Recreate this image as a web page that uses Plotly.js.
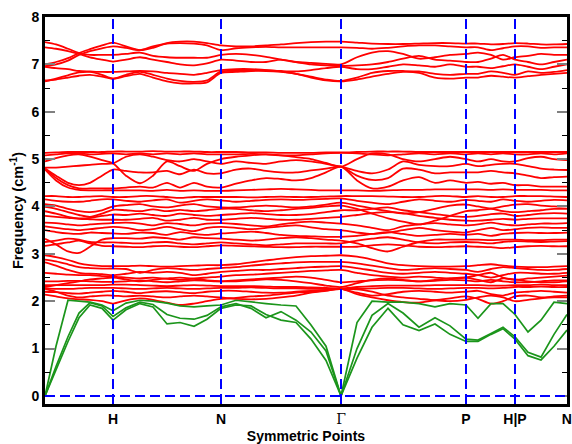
<!DOCTYPE html>
<html>
<head>
<meta charset="utf-8">
<script src="https://cdn.plot.ly/plotly-3.0.1.min.js"></script>
<style>html,body{margin:0;padding:0;background:#fff;}#chart{width:572px;height:444px;}</style>
</head>
<body>
<div id="chart"></div>
<script>
// path coordinate of each sample (Γ-H | H-N | N-Γ | Γ-P | P-H | P-N)
const xGrid = [0,11,23,34,45,57,68, 81,95,108,122,135,149,162,176, 191,206,221,236,251,266,281,296, 312,327,343,358,374,390,405,421, 433,446,458,470, 483,496,509,522];
const symPos = [68,176,296,421,470,521.8];
const symLabels = ['H','N','<span style="font-family:\'DejaVu Serif\',serif;font-weight:normal">Γ</span>','P','H|P','N'];
const dashPos = [68,176,296,421,470];

// acoustic branches (green)
const G1 = [0,0.55,1.15,1.65,1.92,1.85,1.6, 1.82,1.95,1.88,1.52,1.55,1.47,1.62,1.85, 1.92,1.9,1.72,1.6,1.55,1.2,0.75,0, 0.8,1.45,1.85,1.5,1.38,1.52,1.3,1.15, 1.15,1.3,1.42,1.2, 0.85,0.76,1.05,1.39];
const G2 = [0,0.62,1.25,1.75,1.97,1.9,1.68, 1.86,1.98,1.93,1.72,1.64,1.62,1.7,1.88, 1.95,1.85,1.65,1.78,1.6,1.35,0.95,0, 1.0,1.7,1.95,1.75,1.45,1.65,1.48,1.2, 1.18,1.32,1.45,1.25, 0.92,0.82,1.3,1.72];
const G3 = [0,1.05,2.02,2.0,1.98,1.92,1.8, 1.96,2.02,2.0,1.96,1.9,1.88,1.9,1.92, 2.02,1.98,1.95,1.92,1.9,1.5,1.05,0, 1.55,2.0,1.98,1.98,1.95,1.88,1.95,1.92, 1.64,1.95,1.95,1.72, 1.35,1.6,1.98,1.95];

// optical branches (red), group around 2.0-2.5
const A1 = [2.34,2.34,2.34,2.34,2.34,2.34,2.35, 2.35,2.34,2.33,2.32,2.33,2.34,2.33,2.32, 2.32,2.32,2.31,2.3,2.3,2.29,2.28,2.27, 2.3,2.32,2.33,2.33,2.33,2.34,2.34,2.34, 2.34,2.33,2.33,2.34, 2.34,2.35,2.34,2.34];
const A2 = [2.27,2.26,2.26,2.27,2.28,2.28,2.28, 2.27,2.26,2.27,2.28,2.27,2.26,2.27,2.28, 2.28,2.29,2.28,2.27,2.27,2.26,2.26,2.26, 2.26,2.27,2.28,2.28,2.27,2.26,2.27,2.28, 2.28,2.27,2.28,2.3, 2.3,2.31,2.3,2.3];
const A3 = [2.2,2.19,2.17,2.16,2.18,2.2,2.22, 2.2,2.17,2.2,2.21,2.19,2.17,2.2,2.22, 2.22,2.2,2.18,2.18,2.2,2.22,2.24,2.26, 2.18,2.12,2.15,2.2,2.22,2.2,2.18,2.2, 2.22,2.15,2.12,2.18, 2.2,2.22,2.2,2.18];
const A4 = [2.14,2.1,2.06,2.04,2.03,2.0,1.95, 2.02,2.06,2.03,1.97,1.92,1.95,2.0,2.05, 2.07,2.1,2.12,2.15,2.18,2.2,2.23,2.26, 2.15,2.08,2.02,1.98,1.97,2.02,2.06,2.1, 2.05,1.95,2.0,2.1, 2.12,2.08,2.1,2.12];
const A5 = [2.26,2.2,2.12,2.08,2.1,2.12,2.12, 2.1,2.12,2.1,2.08,2.1,2.12,2.1,2.08, 2.05,2.04,2.05,2.08,2.12,2.18,2.22,2.26, 2.25,2.2,2.12,2.08,2.05,2.02,2.0,2.03, 2.08,2.12,2.08,2.0, 2.03,2.06,2.08,2.08];
const A6 = [2.3,2.34,2.38,2.42,2.46,2.48,2.5, 2.46,2.42,2.45,2.48,2.5,2.47,2.44,2.42, 2.42,2.44,2.46,2.45,2.42,2.38,2.33,2.3, 2.38,2.45,2.48,2.45,2.42,2.45,2.48,2.5, 2.45,2.4,2.48,2.46, 2.42,2.4,2.4,2.42];

// group around 2.4-3.0
const B1 = [2.97,2.93,2.87,2.8,2.76,2.74,2.74, 2.74,2.75,2.74,2.73,2.74,2.75,2.76,2.76, 2.78,2.82,2.86,2.9,2.93,2.95,2.96,2.97, 2.94,2.88,2.8,2.76,2.74,2.73,2.73,2.74, 2.76,2.78,2.75,2.73, 2.72,2.72,2.73,2.74];
const B2 = [2.88,2.84,2.78,2.72,2.7,2.69,2.69, 2.68,2.6,2.66,2.7,2.68,2.66,2.68,2.7, 2.72,2.75,2.78,2.8,2.82,2.83,2.83,2.83, 2.8,2.75,2.7,2.66,2.68,2.7,2.68,2.66, 2.62,2.68,2.72,2.7, 2.68,2.66,2.66,2.68];
const B3 = [2.82,2.75,2.66,2.6,2.58,2.57,2.55, 2.58,2.62,2.6,2.62,2.6,2.55,2.58,2.62, 2.64,2.66,2.66,2.68,2.7,2.72,2.73,2.74, 2.7,2.65,2.6,2.58,2.6,2.62,2.6,2.58, 2.55,2.5,2.55,2.6, 2.6,2.58,2.58,2.6];
const B4 = [2.6,2.58,2.56,2.55,2.55,2.53,2.52, 2.5,2.48,2.5,2.47,2.45,2.48,2.5,2.52, 2.55,2.56,2.58,2.6,2.62,2.64,2.65,2.66, 2.6,2.55,2.52,2.5,2.52,2.5,2.48,2.5, 2.55,2.6,2.5,2.45, 2.48,2.5,2.52,2.54];
const B5 = [2.42,2.42,2.43,2.43,2.42,2.41,2.41, 2.42,2.44,2.42,2.4,2.42,2.44,2.43,2.42, 2.44,2.46,2.48,2.5,2.52,2.5,2.45,2.4, 2.42,2.44,2.45,2.44,2.42,2.43,2.45,2.44, 2.42,2.45,2.42,2.4, 2.4,2.42,2.44,2.44];

// group around 3.1-3.7
const C1 = [3.66,3.65,3.62,3.6,3.62,3.64,3.65, 3.66,3.64,3.6,3.65,3.63,3.6,3.64,3.65, 3.63,3.6,3.58,3.62,3.66,3.68,3.66,3.64, 3.6,3.55,3.5,3.58,3.62,3.65,3.62,3.6, 3.62,3.66,3.62,3.6, 3.62,3.64,3.64,3.65];
const C2 = [3.58,3.55,3.52,3.5,3.52,3.55,3.57, 3.55,3.5,3.52,3.57,3.52,3.48,3.55,3.57, 3.55,3.52,3.55,3.58,3.6,3.56,3.52,3.5, 3.45,3.42,3.45,3.5,3.55,3.5,3.47,3.45, 3.5,3.55,3.5,3.52, 3.55,3.56,3.55,3.55];
const C3 = [3.5,3.46,3.43,3.42,3.45,3.44,3.43, 3.42,3.45,3.44,3.4,3.46,3.42,3.4,3.43, 3.45,3.47,3.44,3.4,3.38,3.37,3.36,3.36, 3.38,3.42,3.46,3.42,3.38,3.4,3.42,3.4, 3.42,3.38,3.42,3.44, 3.45,3.44,3.44,3.45];
const C4 = [3.32,3.2,3.05,3.02,3.15,3.3,3.33, 3.33,3.32,3.35,3.33,3.3,3.35,3.33,3.32, 3.3,3.28,3.3,3.33,3.35,3.33,3.3,3.28, 3.22,3.12,3.05,3.15,3.25,3.3,3.3,3.3, 3.3,3.29,3.3,3.3, 3.29,3.29,3.3,3.3];
const C5 = [3.25,3.28,3.32,3.3,3.25,3.24,3.24, 3.23,3.22,3.24,3.25,3.22,3.2,3.22,3.24, 3.22,3.2,3.18,3.2,3.22,3.22,3.22,3.22, 3.28,3.32,3.35,3.3,3.24,3.22,3.24,3.25, 3.24,3.22,3.25,3.27, 3.26,3.25,3.26,3.27];
const C6 = [3.17,3.2,3.24,3.28,3.22,3.17,3.16, 3.15,3.14,3.16,3.17,3.15,3.14,3.16,3.18, 3.17,3.16,3.15,3.14,3.14,3.15,3.15,3.15, 3.15,3.18,3.2,3.18,3.15,3.14,3.15,3.16, 3.15,3.14,3.12,3.14, 3.16,3.17,3.16,3.16];

// group around 3.7-4.25
const D1 = [4.22,4.22,4.2,4.2,4.21,4.22,4.2, 4.2,4.22,4.22,4.2,4.18,4.2,4.2,4.2, 4.2,4.19,4.2,4.21,4.2,4.2,4.21,4.22, 4.22,4.22,4.21,4.2,4.2,4.22,4.22,4.2, 4.22,4.2,4.2,4.22, 4.22,4.22,4.21,4.2];
const D2 = [4.15,4.12,4.1,4.1,4.12,4.15,4.15, 4.12,4.1,4.13,4.15,4.08,4.12,4.15,4.13, 4.1,4.12,4.14,4.15,4.14,4.15,4.16,4.17, 4.12,4.08,4.05,4.1,4.15,4.12,4.1,4.14, 4.12,4.1,4.15,4.12, 4.1,4.12,4.14,4.13];
const D3 = [4.05,4.02,3.95,3.9,3.88,3.92,4.0, 4.03,4.05,4.0,3.98,4.02,4.05,4.0,3.98, 3.98,4.0,4.02,4.0,3.98,4.0,4.04,4.08, 4.02,3.96,3.9,3.85,3.88,3.95,4.02,4.04, 4.0,3.96,4.0,4.04, 4.05,4.02,4.0,4.0];
const D4 = [3.99,3.95,3.88,3.82,3.78,3.85,3.93, 3.92,3.9,3.94,3.9,3.93,3.9,3.92,3.95, 3.95,3.92,3.9,3.92,3.95,3.97,4.0,4.02, 3.95,3.85,3.75,3.68,3.62,3.7,3.8,3.9, 3.92,3.95,3.9,3.88, 3.9,3.92,3.95,3.95];
const D5 = [3.9,3.85,3.78,3.75,3.76,3.8,3.83, 3.82,3.85,3.82,3.8,3.85,3.82,3.8,3.82, 3.84,3.86,3.84,3.82,3.82,3.84,3.88,3.92, 3.92,3.95,3.98,3.92,3.88,3.84,3.8,3.78, 3.8,3.84,3.85,3.8, 3.82,3.85,3.86,3.85];
const D6 = [3.8,3.78,3.76,3.74,3.73,3.72,3.72, 3.72,3.74,3.76,3.7,3.72,3.76,3.72,3.72, 3.74,3.76,3.74,3.72,3.72,3.74,3.76,3.78, 3.82,3.86,3.88,3.86,3.8,3.76,3.72,3.7, 3.7,3.72,3.74,3.72, 3.74,3.75,3.75,3.75];

// group around 4.3-5.2
const E1 = [5.13,5.14,5.15,5.15,5.15,5.15,5.16, 5.16,5.16,5.17,5.16,5.16,5.16,5.15,5.15, 5.15,5.14,5.14,5.13,5.13,5.13,5.14,5.14, 5.15,5.16,5.16,5.16,5.15,5.15,5.15,5.15, 5.15,5.15,5.15,5.15, 5.15,5.15,5.15,5.15];
const E2 = [5.08,5.1,5.12,5.12,5.1,5.11,5.12, 5.1,5.12,5.1,5.12,5.1,5.12,5.1,5.1, 5.1,5.11,5.1,5.08,5.08,5.1,5.12,5.13, 5.12,5.1,5.08,5.1,5.12,5.1,5.12,5.1, 5.12,5.1,5.12,5.1, 5.1,5.12,5.1,5.12];
const E3 = [4.95,5.02,5.08,5.1,5.05,4.98,4.91, 4.65,4.49,4.65,4.95,4.85,4.75,4.9,5.0, 5.05,5.08,5.1,5.08,5.04,5.0,4.92,4.84, 5.0,5.12,5.1,5.0,4.95,5.0,5.05,5.0, 4.95,5.0,4.95,4.95, 5.02,5.05,5.0,4.98];
const E4 = [4.82,4.82,4.84,4.86,4.88,4.9,4.91, 5.05,5.1,5.05,4.98,4.95,5.0,4.95,4.9, 4.95,4.92,4.9,4.95,4.98,4.95,4.9,4.84, 4.75,4.7,4.78,4.95,4.88,4.85,4.85,4.9, 4.85,4.88,4.9,4.9, 4.85,4.8,4.78,4.77];
const E5 = [4.8,4.65,4.5,4.45,4.5,4.65,4.78, 4.75,4.72,4.72,4.75,4.68,4.78,4.7,4.7, 4.78,4.8,4.75,4.72,4.72,4.76,4.8,4.84, 4.65,4.56,4.6,4.8,4.78,4.7,4.72,4.72, 4.72,4.75,4.72,4.7, 4.65,4.6,4.62,4.63];
const E6 = [4.8,4.6,4.45,4.38,4.38,4.38,4.38, 4.4,4.42,4.4,4.5,4.4,4.5,4.42,4.4, 4.48,4.55,4.6,4.58,4.55,4.6,4.72,4.84, 4.55,4.38,4.42,4.55,4.62,4.5,4.55,4.5, 4.52,4.48,4.5,4.45, 4.45,4.42,4.42,4.42];
const E7 = [4.78,4.55,4.4,4.35,4.34,4.34,4.34, 4.34,4.34,4.33,4.35,4.33,4.34,4.33,4.33, 4.34,4.35,4.36,4.37,4.36,4.35,4.34,4.34, 4.34,4.33,4.34,4.35,4.35,4.36,4.36,4.36, 4.36,4.35,4.36,4.35, 4.35,4.35,4.34,4.34];

// group around 6.6-7.5
const F1 = [7.47,7.42,7.33,7.24,7.2,7.2,7.2, 7.22,7.25,7.18,7.15,7.14,7.14,7.14,7.2, 7.22,7.2,7.16,7.1,7.05,7.03,7.01,7.0, 7.15,7.25,7.28,7.22,7.12,7.15,7.2,7.22, 7.25,7.2,7.1,7.15, 7.18,7.22,7.2,7.2];
const F2 = [7.36,7.33,7.28,7.22,7.15,7.1,7.06, 7.1,7.15,7.1,7.05,7.0,6.98,7.02,7.1, 7.08,7.05,7.05,7.1,7.05,7.0,6.98,6.97, 6.98,7.0,7.05,7.12,7.18,7.1,7.08,7.05, 7.05,7.12,7.2,7.1, 7.05,7.0,7.05,7.1];
const F3 = [7.0,7.05,7.13,7.24,7.32,7.4,7.46, 7.38,7.3,7.35,7.45,7.48,7.48,7.45,7.4, 7.38,7.38,7.4,7.42,7.45,7.47,7.48,7.48, 7.46,7.44,7.43,7.43,7.44,7.45,7.45,7.44, 7.44,7.42,7.43,7.45, 7.44,7.42,7.42,7.43];
const F4 = [6.96,7.0,7.08,7.2,7.28,7.34,7.38, 7.35,7.3,7.38,7.44,7.45,7.44,7.4,7.3, 7.34,7.36,7.37,7.36,7.36,7.36,7.36,7.36, 7.35,7.33,7.35,7.38,7.4,7.4,7.38,7.36, 7.36,7.3,7.34,7.38, 7.38,7.35,7.36,7.36];
const F5 = [6.95,6.92,6.9,6.86,6.85,6.84,6.84, 6.85,6.86,6.85,6.82,6.8,6.78,6.82,6.88, 6.9,6.9,6.88,6.86,6.85,6.88,6.92,6.95, 6.9,6.9,6.95,7.0,6.98,6.95,7.0,6.95, 6.95,6.92,6.96,7.0, 6.95,6.9,6.95,7.0];
const F6 = [6.64,6.7,6.77,6.83,6.84,6.78,6.7, 6.78,6.84,6.78,6.7,6.65,6.63,6.66,6.85, 6.86,6.87,6.88,6.85,6.8,6.74,6.68,6.65, 6.72,6.82,6.86,6.86,6.85,6.8,6.78,6.8, 6.8,6.85,6.82,6.78, 6.85,6.82,6.84,6.88];
const F7 = [6.66,6.68,6.72,6.76,6.78,6.74,6.7, 6.75,6.8,6.72,6.64,6.6,6.6,6.62,6.82, 6.84,6.86,6.86,6.84,6.8,6.72,6.66,6.64, 6.68,6.74,6.8,6.84,6.82,6.72,6.7,6.72, 6.72,6.76,6.74,6.72, 6.75,6.78,6.8,6.82];

const redBands = [A1,A2,A3,A4,A5,A6,B1,B2,B3,B4,B5,C1,C2,C3,C4,C5,C6,D1,D2,D3,D4,D5,D6,E1,E2,E3,E4,E5,E6,E7,F1,F2,F3,F4,F5,F6,F7];
const greenBands = [G1,G2,G3];

const traces = [];
redBands.forEach(b => traces.push({
  x: xGrid, y: b, type: 'scatter', mode: 'lines', hoverinfo: 'skip',
  line: {color: '#ff0000', width: 1.8, shape: 'spline', smoothing: 0.8}
}));
greenBands.forEach(b => traces.push({
  x: xGrid, y: b, type: 'scatter', mode: 'lines', hoverinfo: 'skip',
  line: {color: '#1b951b', width: 1.7}
}));

const shapes = dashPos.map(p => ({
  type: 'line', xref: 'x', yref: 'paper', x0: p, x1: p, y0: 0, y1: 1,
  line: {color: '#0000ff', width: 2, dash: '10px,5px'}, layer: 'above'
}));
shapes.push({type: 'line', xref: 'paper', yref: 'y', x0: 0, x1: 1, y0: 0, y1: 0,
  line: {color: '#0000ff', width: 2, dash: '10px,5px'}, layer: 'above'});

const boldFont = {family: 'Liberation Sans, Arial, sans-serif', size: 14, color: '#000', weight: 'bold'};

const layout = {
  width: 572, height: 444,
  margin: {l: 45, r: 5, t: 17, b: 40},
  paper_bgcolor: '#fff', plot_bgcolor: '#fff',
  showlegend: false,
  xaxis: {
    range: [0, 522], showgrid: false, zeroline: false,
    showline: true, linecolor: '#000', linewidth: 3, mirror: true,
    ticks: '', tickvals: symPos, ticktext: symLabels,
    tickfont: boldFont,
    title: {text: 'Symmetric Points', font: {family: 'Liberation Sans, Arial, sans-serif', size: 14, color: '#000', weight: 'bold'}, standoff: 9}
  },
  yaxis: {
    range: [-0.17, 8], showgrid: false, zeroline: false,
    showline: true, linecolor: '#000', linewidth: 3, mirror: 'allticks',
    tick0: 0, dtick: 1, ticks: 'inside', ticklen: 10, tickwidth: 2, tickcolor: '#808080',
    minor: {dtick: 0.5, ticks: 'inside', ticklen: 5, tickwidth: 1, tickcolor: '#000'},
    tickfont: boldFont,
    title: {text: 'Frequency (cm<sup>-1</sup>)', font: {family: 'Liberation Sans, Arial, sans-serif', size: 14.5, color: '#000', weight: 'bold'}, standoff: 5}
  },
  shapes: shapes
};

Plotly.newPlot('chart', traces, layout, {staticPlot: true, displayModeBar: false});
</script>
</body>
</html>
